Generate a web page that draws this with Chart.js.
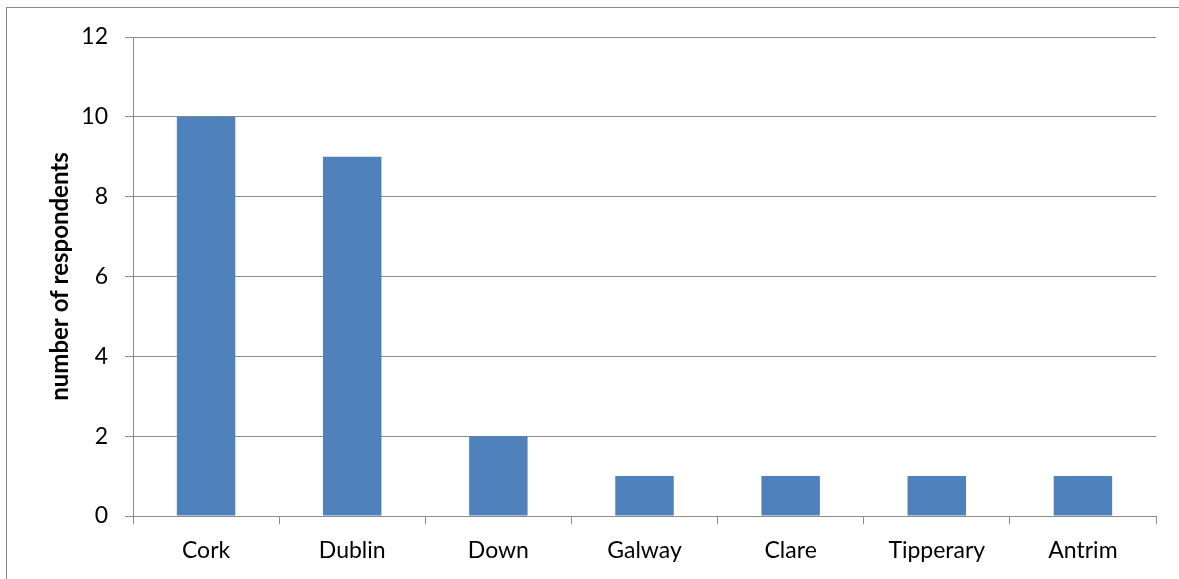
<!DOCTYPE html>
<html>
<head>
<meta charset="utf-8">
<script src="https://cdn.jsdelivr.net/npm/chart.js@4/dist/chart.umd.min.js"></script>
<style>
    html, body { margin: 0; padding: 0; background: #fff; }
    #wrap { position: relative; width: 1179px; height: 579px; overflow: hidden; }
    #frame {
        position: absolute; left: 6px; top: 7px; width: 1300px; height: 700px;
        border-left: 1px solid #8a8a8a; border-top: 1px solid #8a8a8a;
        pointer-events: none;
    }
</style>
</head>
<body>
<div id="wrap">
    <canvas id="chartCounties" width="1179" height="579"></canvas>
    <div id="frame"></div>
</div>
<script>
const counties = ['Cork', 'Dublin', 'Down', 'Galway', 'Clare', 'Tipperary', 'Antrim'];
const respondents = [10, 9, 2, 1, 1, 1, 1];
const yTicks = [0, 2, 4, 6, 8, 10, 12];

Chart.defaults.font.family = 'Lato, "Open Sans", sans-serif';
Chart.defaults.color = '#000';

const ctx = document.getElementById('chartCounties').getContext('2d');

var dataRespondents = {
    label: 'number of respondents',
    data: respondents,
    backgroundColor: '#4f81bd',
    borderWidth: 0,
    barPercentage: 0.4,
    categoryPercentage: 1
};

var chartOptions = {
    responsive: false,
    animation: false,
    devicePixelRatio: 1,
    layout: {
        padding: { left: 40, top: 37, right: 23, bottom: 0 }
    },
    plugins: {
        legend: { display: false },
        tooltip: { enabled: false }
    },
    scales: {
        x: {
            grid: {
                offset: true,
                drawOnChartArea: false,
                drawTicks: true,
                tickLength: 8,
                color: '#8a8a8a'
            },
            border: { color: '#8a8a8a' },
            ticks: { font: { size: 23 }, padding: 13 },
            afterFit: function (scale) { scale.height = 63; }
        },
        y: {
            min: 0,
            max: 12,
            afterBuildTicks: function (scale) {
                scale.ticks = yTicks.map(v => ({ value: v }));
            },
            grid: {
                color: '#8a8a8a',
                tickLength: 8
            },
            border: { color: '#8a8a8a' },
            ticks: { font: { size: 23 }, padding: 17 },
            title: {
                display: true,
                text: 'number of respondents',
                font: { size: 24, weight: 'bold' },
                padding: { top: 6, bottom: 0 }
            },
            afterFit: function (scale) { scale.width = 93; }
        }
    }
};

const barChart = new Chart(ctx, {
    type: 'bar',
    data: { labels: counties, datasets: [dataRespondents] },
    options: chartOptions
});
</script>
</body>
</html>
